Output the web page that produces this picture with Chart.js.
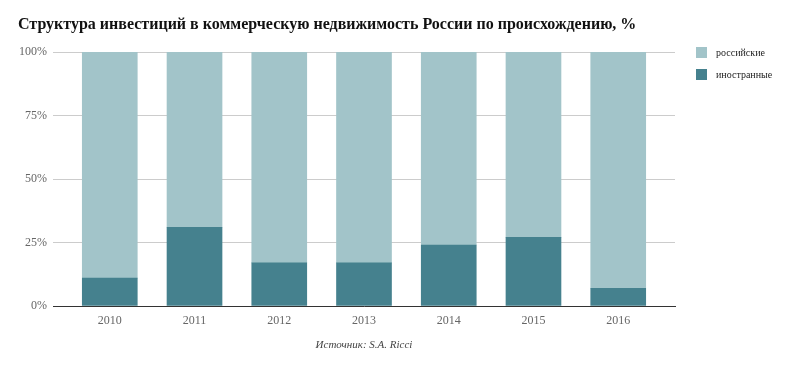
<!DOCTYPE html>
<html>
<head>
<meta charset="utf-8">
<script src="https://cdn.jsdelivr.net/npm/chart.js@4.4.0/dist/chart.umd.min.js"></script>
<style>
  html, body { margin: 0; padding: 0; background: #fff; }
  #wrap { position: relative; width: 793px; height: 371px; font-family: "Liberation Serif", "Times New Roman", serif; }
  #title { position: absolute; left: 18px; top: 15px; font-size: 16px; font-weight: bold; color: #111; white-space: nowrap; }
  #source { position: absolute; left: 53px; width: 622px; top: 338px; text-align: center; font-size: 11px; font-style: italic; color: #444; }
  #legend { position: absolute; left: 696px; top: 47px; font-size: 10px; color: #222; }
  #legend div { position: relative; height: 22px; padding-left: 20px; line-height: 11px; }
  #legend span { position: absolute; left: 0; top: 0; width: 11px; height: 11px; }
  canvas { position: absolute; left: 0; top: 0; }
</style>
</head>
<body>
<div id="wrap">
  <canvas id="chart" width="793" height="371"></canvas>
  <div id="title">Структура инвестиций в коммерческую недвижимость России по происхождению, %</div>
  <div id="legend"></div>
  <div id="source">Источник: S.A. Ricci</div>
</div>
<script>
  const years = ['2010', '2011', '2012', '2013', '2014', '2015', '2016'];
  const foreign = [11, 31, 17, 17, 24, 27, 7];
  const domestic = [89, 69, 83, 83, 76, 73, 93];
  const yTicks = [0, 25, 50, 75, 100];

  const seriesNames = ['российские', 'иностранные'];
  const colors = ['#a2c4c9', '#45818e'];

  const legend = document.getElementById('legend');
  seriesNames.forEach((name, i) => {
    legend.innerHTML += '<div><span style="background:' + colors[i] + '"></span>' + name + '</div>';
  });

  const toPoints = arr => arr.map((v, i) => ({ x: i, y: v }));

  new Chart(document.getElementById('chart'), {
    type: 'bar',
    data: {
      datasets: [
        { label: seriesNames[1], data: toPoints(foreign), backgroundColor: colors[1], barThickness: 55, order: 1 },
        { label: seriesNames[0], data: toPoints(domestic), backgroundColor: colors[0], barThickness: 55, order: 2 }
      ]
    },
    options: {
      responsive: false,
      animation: false,
      layout: { padding: { left: 0, right: 118, top: 52, bottom: 0 } },
      plugins: { legend: { display: false }, tooltip: { enabled: false } },
      scales: {
        x: {
          type: 'linear',
          stacked: true,
          offset: false,
          bounds: 'data',
          min: -0.67,
          max: 6.67,
          grid: { display: false, drawTicks: false },
          border: { display: true, color: '#333', width: 1 },
          afterBuildTicks: s => { s.ticks = years.map((_, i) => ({ value: i })); },
          afterFit: s => { s.height = 65; },
          ticks: {
            padding: 8,
            autoSkip: false,
            maxRotation: 0,
            color: '#666',
            font: { family: 'Liberation Serif', size: 12 },
            callback: v => years[v]
          }
        },
        y: {
          stacked: true,
          min: 0,
          max: 100,
          afterBuildTicks: s => { s.ticks = yTicks.map(v => ({ value: v })); },
          afterFit: s => { s.width = 53; },
          grid: { color: '#cccccc', drawTicks: false },
          border: { display: false },
          ticks: {
            padding: 6,
            color: '#666',
            font: { family: 'Liberation Serif', size: 12 },
            callback: v => v + '%'
          }
        }
      }
    }
  });
</script>
</body>
</html>
